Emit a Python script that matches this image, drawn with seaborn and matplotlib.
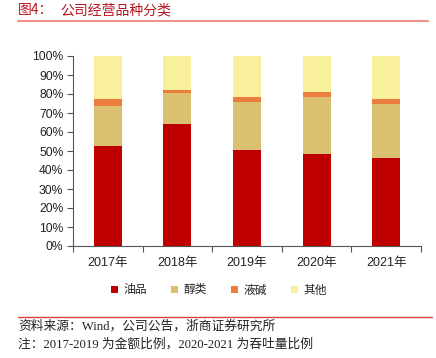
import matplotlib
matplotlib.use("Agg")
import matplotlib.pyplot as plt
import seaborn as sns
import pandas as pd
import numpy as np
from matplotlib.patches import Patch
from matplotlib.lines import Line2D

sns.set_theme(style="white")
plt.rcParams['font.family'] = ['Liberation Sans', 'Noto Sans CJK SC', 'DejaVu Sans']

years = ["2017年", "2018年", "2019年", "2020年", "2021年"]
series_names = ["油品", "醇类", "液碱", "其他"]
oil = [52.6, 64.0, 50.7, 48.6, 46.5]
alcohol = [21.2, 16.5, 25.2, 29.8, 28.4]
lye = [3.4, 1.4, 2.3, 2.7, 2.6]
other = [22.8, 18.1, 21.8, 18.9, 22.5]
colors = ["#C00000", "#DBC072", "#ED7D3C", "#F9F09E"]

title_left = "图4："
title_right = "公司经营品种分类"
source = "资料来源：Wind，公司公告，浙商证券研究所"
note = "注：2017-2019 为金额比例，2020-2021 为吞吐量比例"

df = pd.DataFrame({"year": years, "油品": oil, "醇类": alcohol, "液碱": lye, "其他": other})
cum = df[series_names].cumsum(axis=1)

fig = plt.figure(figsize=(4.36, 3.58), dpi=100)
ax = fig.add_axes([73/436, 1-246/358, (421-73)/436, (246-56)/358])

for name, col in reversed(list(zip(series_names, colors))):
    sns.barplot(x=df["year"], y=cum[name], color=col, width=0.4, ax=ax,
                saturation=1, linewidth=0)

ax.set_ylim(0, 100)
ax.set_xlim(-0.5, 4.5)
ax.set_yticks(np.arange(0, 101, 10))
ax.set_yticklabels([f"{v}%" for v in range(0, 101, 10)], fontsize=8.7, color="#222222")
ax.set_xticks(range(5))
ax.set_xticklabels(years, fontsize=9, color="#222222")
ax.set_xticks(np.arange(-0.5, 5, 1), minor=True)
ax.tick_params(axis="x", which="major", length=0, pad=8)
ax.tick_params(axis="x", which="minor", length=4, width=0.8, color="#555555", direction="out", bottom=True)
ax.tick_params(axis="y", length=4, width=0.8, color="#555555", direction="out", left=True, pad=3)
ax.set_xlabel("")
ax.set_ylabel("")
for s in ["top", "right"]:
    ax.spines[s].set_visible(False)
for s in ["left", "bottom"]:
    ax.spines[s].set_color("#555555")
    ax.spines[s].set_linewidth(0.8)

handles = [Patch(facecolor=c, edgecolor="none", label=n) for n, c in zip(series_names, colors)]
fig.legend(handles=handles, loc="center", bbox_to_anchor=(219/436, 1-290/358), ncol=4,
           frameon=False, handlelength=0.6, handleheight=0.6,
           handletextpad=0.5, columnspacing=2.0,
           prop={"family": ["Noto Sans CJK SC"], "size": 8.5})

fig.text(18/436, 1-10/358, title_left, fontsize=10, color="#B8141E", va="center", ha="left",
         family=["Noto Sans CJK SC"])
fig.text(60/436, 1-10/358, title_right, fontsize=10, color="#B8141E", va="center", ha="left",
         family=["Noto Sans CJK SC"])
fig.add_artist(Line2D([18/436, 428/436], [1-21/358, 1-21/358], color="#EE9090", linewidth=1.5))
fig.add_artist(Line2D([18/436, 432/436], [1-317/358, 1-317/358], color="#D84040", linewidth=1.0))
fig.text(18/436, 1-326/358, source, fontsize=9.2, color="#222222", va="center", ha="left",
         family=["Liberation Serif", "Noto Sans CJK SC"])
fig.text(18/436, 1-344/358, note, fontsize=9.2, color="#222222", va="center", ha="left",
         family=["Liberation Serif", "Noto Sans CJK SC"])

fig.savefig("out.png", dpi=100)
